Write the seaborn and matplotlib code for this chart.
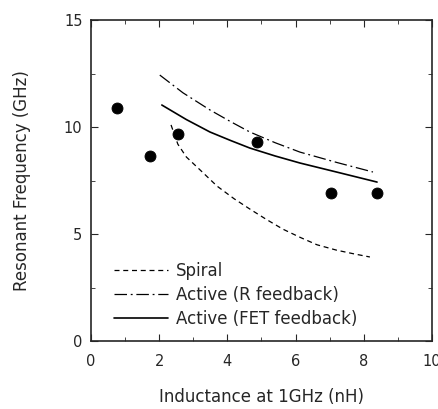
import numpy as np
import pandas as pd
import seaborn as sns
import matplotlib.pyplot as plt
from matplotlib.ticker import MultipleLocator

# measured points
meas_x = [0.76, 1.73, 2.55, 4.87, 7.04, 8.39]
meas_y = [10.9, 8.65, 9.67, 9.3, 6.9, 6.9]

# model curves
spiral_x = [2.35, 2.55, 2.8, 3.2, 3.7, 4.2, 4.66, 5.15, 5.63, 6.13, 6.63, 7.2, 7.7, 8.18]
spiral_y = [10.1, 9.2, 8.6, 8.0, 7.24, 6.65, 6.17, 5.68, 5.23, 4.85, 4.5, 4.25, 4.08, 3.93]

r_fb_x = [2.02, 2.7, 3.49, 4.1, 4.66, 5.4, 6.13, 7.2, 8.27]
r_fb_y = [12.43, 11.6, 10.8, 10.25, 9.77, 9.27, 8.83, 8.35, 7.9]

fet_fb_x = [2.08, 2.8, 3.49, 4.1, 4.66, 5.4, 6.13, 7.2, 8.39]
fet_fb_y = [11.03, 10.35, 9.77, 9.37, 9.02, 8.65, 8.32, 7.9, 7.43]

sns.set_style("ticks")
plt.rcParams['font.family'] = ['DejaVu Sans']

fig = plt.figure(figsize=(4.39, 4.09), dpi=100)
ax = fig.add_axes([0.207, 0.166, 0.777, 0.785])

sns.lineplot(x=spiral_x, y=spiral_y, ax=ax, color='black', lw=0.9,
             linestyle=(0, (4, 3)), label='Spiral', sort=False)
sns.lineplot(x=r_fb_x, y=r_fb_y, ax=ax, color='black', lw=0.9,
             linestyle=(0, (10, 3, 1.5, 3)), label='Active (R feedback)', sort=False)
sns.lineplot(x=fet_fb_x, y=fet_fb_y, ax=ax, color='black', lw=1.2,
             linestyle='-', label='Active (FET feedback)', sort=False)
sns.scatterplot(x=meas_x, y=meas_y, ax=ax, color='black', s=62,
                edgecolor='black', zorder=5)

ax.set_xlim(0, 10)
ax.set_ylim(0, 15)
ax.xaxis.set_major_locator(MultipleLocator(2))
ax.xaxis.set_minor_locator(MultipleLocator(1))
ax.yaxis.set_major_locator(MultipleLocator(5))
ax.yaxis.set_minor_locator(MultipleLocator(2.5))
ax.tick_params(which='both', direction='in', top=True, right=True, labelsize=10.5)
ax.tick_params(which='major', length=5)
ax.tick_params(which='minor', length=3)
ax.tick_params(axis='x', pad=9)
ax.tick_params(axis='y', pad=6)
for s in ax.spines.values():
    s.set_linewidth(1.2)

ax.set_xlabel('Inductance at 1GHz (nH)', fontsize=12, labelpad=14)
ax.set_ylabel('Resonant Frequency (GHz)', fontsize=12, labelpad=24)

ax.legend(loc='lower left', bbox_to_anchor=(0.035, 0.005), frameon=False,
          fontsize=12, handlelength=3.2, labelspacing=0.35, handletextpad=0.5,
          borderaxespad=0.3)

fig.savefig('out.png', dpi=100)
